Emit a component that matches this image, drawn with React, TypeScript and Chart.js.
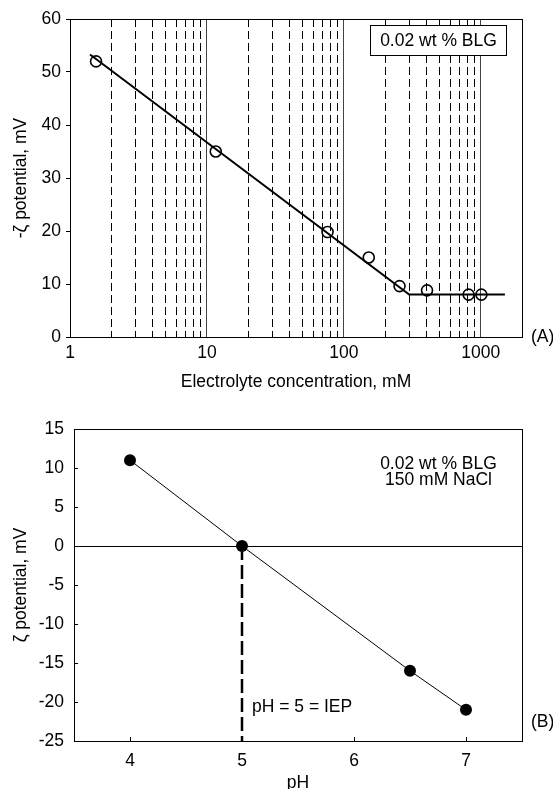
import React, { useEffect, useRef } from 'react';
import { Chart, registerables } from 'chart.js';

Chart.register(...registerables);

const FONT = "'Liberation Sans', Arial, Helvetica, sans-serif";
const FS = 17.5;

// ---------- Panel A data ----------
const concentrationMM = [1.55, 11.6, 76, 152, 255, 405, 815, 1010];
const negZetaMV = [52, 35, 19.8, 15, 9.6, 8.8, 8, 8];
const fitConcentrationMM = [1.4, 300, 1500];
const fitNegZetaMV = [53.3, 8, 8];
const concentrationTickLabels = [1, 10, 100, 1000];
const concentrationGridValues = [
  1, 2, 3, 4, 5, 6, 7, 8, 9,
  10, 20, 30, 40, 50, 60, 70, 80, 90,
  100, 200, 300, 400, 500, 600, 700, 800, 900,
  1000, 2000,
];
const panelALegend = '0.02 wt % BLG';

// ---------- Panel B data ----------
const pHValues = [4, 5, 6.5, 7];
const zetaMV = [11, 0, -16, -21];
const iepPH = [5, 5];
const iepZeta = [0, -25];
const pHTicks = [4, 5, 6, 7];
const panelBNotes = ['0.02 wt % BLG', '150 mM NaCl'];
const iepLabel = 'pH = 5 = IEP';

const isDecade = (v: number) => {
  const l = Math.log10(v);
  return Math.abs(l - Math.round(l)) < 1e-9;
};

const strokeFrame = (ctx: CanvasRenderingContext2D, a: any) => {
  const l = Math.round(a.left) + 0.5;
  const t = Math.round(a.top) + 0.5;
  const r = Math.round(a.right) + 0.5;
  const b = Math.round(a.bottom) + 0.5;
  ctx.save();
  ctx.strokeStyle = '#000';
  ctx.lineWidth = 1;
  ctx.setLineDash([]);
  ctx.strokeRect(l, t, r - l, b - t);
  ctx.restore();
};

const panelAPlugin = {
  id: 'panelAExtras',
  afterDatasetsDraw(chart: any) {
    const { ctx, chartArea } = chart;
    strokeFrame(ctx, chartArea);
    ctx.save();
    ctx.fillStyle = '#fff';
    ctx.fillRect(370.5, 25.5, 136, 30);
    ctx.strokeStyle = '#000';
    ctx.lineWidth = 1;
    ctx.strokeRect(370.5, 25.5, 136, 30);
    ctx.fillStyle = '#000';
    ctx.font = `${FS}px ${FONT}`;
    ctx.textAlign = 'center';
    ctx.textBaseline = 'middle';
    ctx.fillText(panelALegend, 438.5, 41);
    ctx.textAlign = 'left';
    ctx.fillText('(A)', 531, chart.scales.y.getPixelForValue(0));
    ctx.restore();
  },
};

const panelBPlugin = {
  id: 'panelBExtras',
  afterDatasetsDraw(chart: any) {
    const { ctx, chartArea, scales } = chart;
    strokeFrame(ctx, chartArea);
    ctx.save();
    ctx.fillStyle = '#000';
    ctx.font = `${FS}px ${FONT}`;
    ctx.textAlign = 'center';
    ctx.textBaseline = 'middle';
    ctx.fillText(panelBNotes[0], 438.5, 69.5);
    ctx.fillText(panelBNotes[1], 438.5, 85);
    ctx.textAlign = 'left';
    ctx.fillText(iepLabel, scales.x.getPixelForValue(5) + 10, 312);
    ctx.fillText('(B)', 531, 327);
    ctx.restore();
  },
};

function ChartA() {
  const ref = useRef<HTMLCanvasElement | null>(null);
  useEffect(() => {
    if (!ref.current) return;
    const chart = new Chart(ref.current, {
      type: 'scatter',
      data: {
        datasets: [
          {
            data: concentrationMM.map((x, i) => ({ x, y: negZetaMV[i] })),
            showLine: false,
            pointRadius: 5.5,
            pointHoverRadius: 5.5,
            pointBorderWidth: 1.6,
            pointBorderColor: '#000',
            pointBackgroundColor: 'rgba(0,0,0,0)',
          },
          {
            data: fitConcentrationMM.map((x, i) => ({ x, y: fitNegZetaMV[i] })),
            showLine: true,
            borderColor: '#000',
            borderWidth: 2,
            pointRadius: 0,
            pointHoverRadius: 0,
          },
        ],
      } as any,
      options: {
        animation: false,
        responsive: false,
        events: [],
        layout: { padding: { top: 19, right: 31, left: 0, bottom: 0 } },
        plugins: { legend: { display: false }, tooltip: { enabled: false } },
        scales: {
          x: {
            type: 'logarithmic',
            min: 1,
            max: 2000,
            afterFit: (s: any) => {
              s.height = 58;
            },
            afterBuildTicks: (s: any) => {
              s.ticks = concentrationGridValues.map((v) => ({ value: v, major: isDecade(v) }));
            },
            grid: {
              drawOnChartArea: true,
              drawTicks: false,
              lineWidth: 1,
              color: (c: any) => {
                const v = c.tick ? c.tick.value : 0;
                if (v && isDecade(v) && v > 1) return '#444';
                return '#000';
              },
            },
            border: {
              display: true,
              color: '#000',
              width: 1,
              dash: (c: any) => {
                const v = c.tick ? c.tick.value : 0;
                if (!v || isDecade(v) || v >= 2000) return [];
                return [8, 4];
              },
            },
            ticks: {
              autoSkip: false,
              maxRotation: 0,
              minRotation: 0,
              padding: 6,
              color: '#000',
              font: { family: FONT, size: FS },
              callback: (v: any) => {
                const n = Number(v);
                const hit = concentrationTickLabels.find((t) => Math.abs(t - n) < 1e-6 * t);
                return hit !== undefined ? String(hit) : '';
              },
            },
            title: {
              display: true,
              text: 'Electrolyte concentration, mM',
              color: '#000',
              font: { family: FONT, size: FS },
              padding: { top: 0, bottom: 2 },
            },
          },
          y: {
            type: 'linear',
            min: 0,
            max: 60,
            afterFit: (s: any) => {
              s.width = 70;
            },
            grid: {
              drawOnChartArea: false,
              drawTicks: true,
              tickLength: 4,
              tickColor: '#000',
            },
            border: { display: true, color: '#000', width: 1 },
            ticks: {
              stepSize: 10,
              padding: 5,
              color: '#000',
              font: { family: FONT, size: FS },
            },
            title: {
              display: true,
              text: '-ζ potential, mV',
              color: '#000',
              font: { family: FONT, size: FS },
              padding: { top: 11, bottom: 0 },
            },
          },
        },
      } as any,
      plugins: [panelAPlugin],
    });
    return () => chart.destroy();
  }, []);
  return (
    <canvas
      ref={ref}
      width={553}
      height={395}
      style={{ position: 'absolute', left: 0, top: 0, width: 553, height: 395, display: 'block' }}
    />
  );
}

function ChartB() {
  const ref = useRef<HTMLCanvasElement | null>(null);
  useEffect(() => {
    if (!ref.current) return;
    const chart = new Chart(ref.current, {
      type: 'scatter',
      data: {
        datasets: [
          {
            data: pHValues.map((x, i) => ({ x, y: zetaMV[i] })),
            showLine: true,
            borderColor: '#000',
            borderWidth: 1,
            pointRadius: 6,
            pointHoverRadius: 6,
            pointBorderWidth: 0,
            pointBackgroundColor: '#000',
            pointBorderColor: '#000',
          },
          {
            data: iepPH.map((x, i) => ({ x, y: iepZeta[i] })),
            showLine: true,
            borderColor: '#000',
            borderWidth: 2.5,
            borderDash: [14, 5],
            pointRadius: 0,
            pointHoverRadius: 0,
          },
        ],
      } as any,
      options: {
        animation: false,
        responsive: false,
        events: [],
        layout: { padding: { top: 34, right: 31, left: 0, bottom: 0 } },
        plugins: { legend: { display: false }, tooltip: { enabled: false } },
        scales: {
          x: {
            type: 'linear',
            min: 3.5,
            max: 7.5,
            afterFit: (s: any) => {
              s.height = 54;
            },
            afterBuildTicks: (s: any) => {
              s.ticks = pHTicks.map((v) => ({ value: v }));
            },
            grid: {
              drawOnChartArea: false,
              drawTicks: true,
              tickLength: -4,
              tickColor: '#000',
            },
            border: { display: true, color: '#000', width: 1 },
            ticks: {
              autoSkip: false,
              maxRotation: 0,
              minRotation: 0,
              padding: 14,
              color: '#000',
              font: { family: FONT, size: FS },
            },
            title: {
              display: true,
              text: 'pH',
              color: '#000',
              font: { family: FONT, size: FS },
              padding: { top: 0, bottom: 1 },
            },
          },
          y: {
            type: 'linear',
            min: -25,
            max: 15,
            afterFit: (s: any) => {
              s.width = 74;
            },
            grid: {
              drawOnChartArea: true,
              drawTicks: true,
              tickLength: -4,
              tickColor: '#000',
              lineWidth: 1,
              color: (c: any) =>
                c.tick && Math.abs(c.tick.value) < 1e-9 ? '#000' : 'rgba(0,0,0,0)',
            },
            border: { display: true, color: '#000', width: 1 },
            ticks: {
              stepSize: 5,
              padding: 14,
              color: '#000',
              font: { family: FONT, size: FS },
            },
            title: {
              display: true,
              text: 'ζ potential, mV',
              color: '#000',
              font: { family: FONT, size: FS },
              padding: { top: 11, bottom: 0 },
            },
          },
        },
      } as any,
      plugins: [panelBPlugin],
    });
    return () => chart.destroy();
  }, []);
  return (
    <canvas
      ref={ref}
      width={553}
      height={400}
      style={{ position: 'absolute', left: 0, top: 395, width: 553, height: 400, display: 'block' }}
    />
  );
}

export default function App() {
  return (
    <div
      style={{
        position: 'absolute',
        left: 0,
        top: 0,
        width: 553,
        height: 789,
        overflow: 'hidden',
        background: '#fff',
      }}
    >
      <ChartA />
      <ChartB />
    </div>
  );
}
